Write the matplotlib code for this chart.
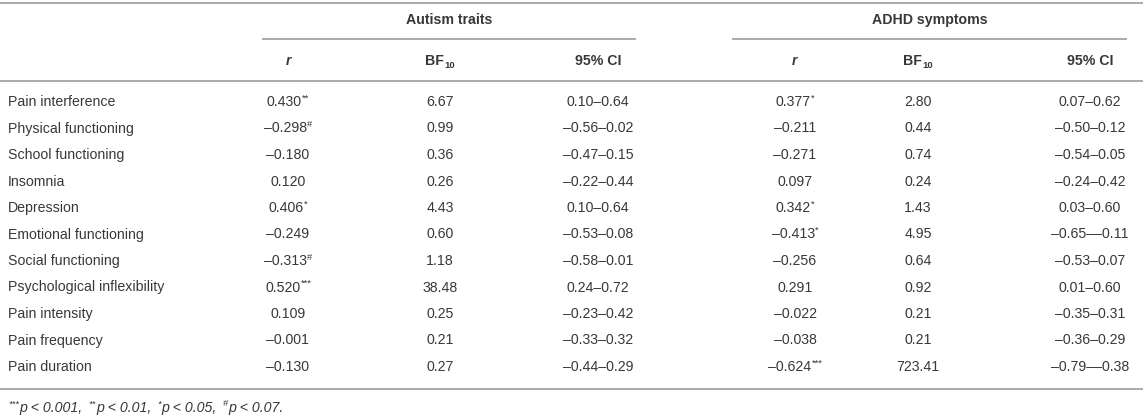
import matplotlib
matplotlib.use("Agg")
import matplotlib.pyplot as plt

# Table: correlations of autism traits / ADHD symptoms with pain outcomes
labels = ["Pain interference", "Physical functioning", "School functioning",
          "Insomnia", "Depression", "Emotional functioning", "Social functioning",
          "Psychological inflexibility", "Pain intensity", "Pain frequency",
          "Pain duration"]

autism_r = [0.430, -0.298, -0.180, 0.120, 0.406, -0.249, -0.313, 0.520, 0.109, -0.001, -0.130]
autism_sig = ["**", "#", "", "", "*", "", "#", "***", "", "", ""]
autism_bf = [6.67, 0.99, 0.36, 0.26, 4.43, 0.60, 1.18, 38.48, 0.25, 0.21, 0.27]
autism_lo = [0.10, -0.56, -0.47, -0.22, 0.10, -0.53, -0.58, 0.24, -0.23, -0.33, -0.44]
autism_hi = [0.64, 0.02, 0.15, 0.44, 0.64, 0.08, 0.01, 0.72, 0.42, 0.32, 0.29]

adhd_r = [0.377, -0.211, -0.271, 0.097, 0.342, -0.413, -0.256, 0.291, -0.022, -0.038, -0.624]
adhd_sig = ["*", "", "", "", "*", "*", "", "", "", "", "***"]
adhd_bf = [2.80, 0.44, 0.74, 0.24, 1.43, 4.95, 0.64, 0.92, 0.21, 0.21, 723.41]
adhd_lo = [0.07, -0.50, -0.54, -0.24, 0.03, -0.65, -0.53, 0.01, -0.35, -0.36, -0.79]
adhd_hi = [0.62, 0.12, 0.05, 0.42, 0.60, -0.11, 0.07, 0.60, 0.31, 0.29, -0.38]

groups = ["Autism traits", "ADHD symptoms"]
footnote = [("***", "p < 0.001, "), ("**", "p < 0.01, "), ("*", "p < 0.05, "), ("#", "p < 0.07.")]

TXT = "#383838"
RULE = "#aaaaaa"
FS = 10.2
plt.rcParams["font.family"] = ["Liberation Sans", "DejaVu Sans"]

W, H = 1143, 418
fig = plt.figure(figsize=(W / 100, H / 100), dpi=100)
ax = fig.add_axes([0, 0, 1, 1])
ax.set_xlim(0, W)
ax.set_ylim(H, 0)
ax.axis("off")
renderer = fig.canvas.get_renderer()


def fmt(v, nd):
    s = f"{abs(v):.{nd}f}"
    return ("\u2013" + s) if v < 0 else s


def width(t):
    return t.get_window_extent(renderer).width


def cell(x, y, main, sup="", sub="", weight="normal", style="normal"):
    # main text plus optional superscript / subscript, centred as one block
    t = ax.text(x, y, main, ha="left", va="center", fontsize=FS, color=TXT,
                fontweight=weight, fontstyle=style)
    extra = sup or sub
    if not extra:
        t.set_ha("center")
        return
    e = ax.text(x, y + (-4 if sup else 4), extra, ha="left", va="center",
                fontsize=FS * 0.66, color=TXT, fontweight=weight)
    w1, w2 = width(t), width(e)
    x0 = x - (w1 + w2) / 2
    t.set_x(x0)
    e.set_x(x0 + w1 + 0.5)


# column centres
cols = [[288, 440, 598], [795, 918, 1090]]
spans = [(263, 635), (733, 1126)]

# rules
ax.plot([0, W], [3, 3], color=RULE, lw=1.4)
ax.plot([0, W], [80.5, 80.5], color=RULE, lw=1.4)
ax.plot([0, W], [389, 389], color=RULE, lw=1.4)
for (a, b) in spans:
    ax.plot([a, b], [39, 39], color=RULE, lw=1.4)

# header
for g, (a, b), c in zip(groups, spans, cols):
    ax.text((a + b) / 2, 20, g, ha="center", va="center", fontsize=FS,
            color=TXT, fontweight="bold")
    cell(c[0], 61, "r", weight="bold", style="italic")
    cell(c[1], 61, "BF", sub="10", weight="bold")
    cell(c[2], 61, "95% CI", weight="bold")

# body
y0, dy = 102, 26.5
for i, lab in enumerate(labels):
    y = y0 + i * dy
    ax.text(8, y, lab, ha="left", va="center", fontsize=FS, color=TXT)
    for c, r, sg, bf, lo, hi in ((cols[0], autism_r, autism_sig, autism_bf, autism_lo, autism_hi),
                                 (cols[1], adhd_r, adhd_sig, adhd_bf, adhd_lo, adhd_hi)):
        cell(c[0], y, fmt(r[i], 3), sup=sg[i])
        cell(c[1], y, fmt(bf[i], 2))
        cell(c[2], y, fmt(lo[i], 2) + "\u2013" + fmt(hi[i], 2))

# footnote
x = 8
for sym, txt in footnote:
    s = ax.text(x, 404, sym, ha="left", va="center", fontsize=FS * 0.66,
                color=TXT, fontstyle="italic")
    x += width(s) + 0.5
    t = ax.text(x, 408, txt, ha="left", va="center", fontsize=FS,
                color=TXT, fontstyle="italic")
    x += width(t) + 2

fig.savefig("out.png", dpi=100)
